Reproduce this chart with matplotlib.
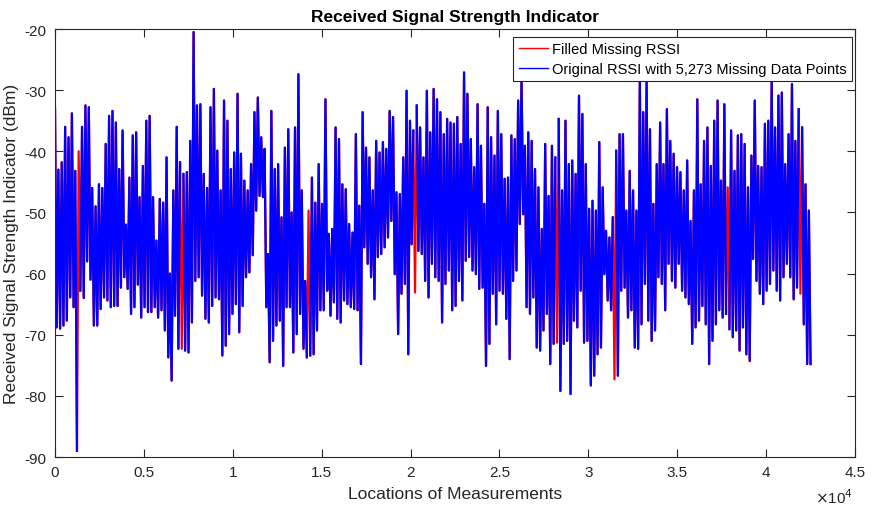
# -*- coding: utf-8 -*-
import numpy as np
import matplotlib as mpl
mpl.use('Agg')
import matplotlib.pyplot as plt

#------------------ Font setup ----------------------
plt.rcParams['font.family'] = ['Liberation Sans', 'DejaVu Sans']
plt.rcParams['axes.unicode_minus'] = False
plt.rcParams['path.simplify'] = False
dark = '#262626'

#------------------ Data (upper / lower envelope read per column) ----------------------
rssi_high = [
    -33, -43, -41.8, -36, -37.7, -33.8, -43.2, -40, -36, -32.5, -32.8, -46, -49, -45.4,
    -46, -38.8, -34.2, -33.4, -35.3, -42.9, -36.6, -52, -44.3, -37.4, -36.9, -47.5, -42.4, -35,
    -34.2, -47.5, -54.6, -47.8, -48.4, -41, -60, -46.4, -36, -41.8, -43.7, -43.4, -38.3, -20.5,
    -32.5, -32.3, -43.7, -46, -32.8, -29.8, -39.9, -46.4, -31.7, -35, -42.9, -40.2, -30.6, -40.4,
    -44.8, -46.4, -42.1, -33.6, -31.2, -37.7, -39.6, -56.8, -33.4, -42.9, -42.1, -50.8, -39.4, -36.4,
    -50, -36.1, -27.4, -46.4, -61.2, -49.7, -44.3, -48.4, -42.1, -48.6, -31.5, -53.5, -52.7, -36.1,
    -38, -45.4, -46.2, -51.9, -53.3, -37.2, -48.9, -33.6, -39.4, -41, -46.4, -38.3, -40.2, -38.5,
    -39.6, -33.4, -34.4, -46.7, -47, -41, -30.1, -35, -36.6, -32.5, -36.1, -41, -30.1, -36.9,
    -29.8, -31.5, -33.6, -37.2, -34.7, -35.3, -35.5, -34.4, -38.8, -27.1, -30.6, -38, -42.6, -32.3,
    -39.1, -48.6, -32.8, -37.7, -40.7, -33.4, -37.2, -44.5, -44.3, -37.4, -38, -31.7, -28.2, -39.1,
    -36.9, -38.3, -42.9, -45.9, -52.7, -38.8, -47.3, -39.1, -41, -34.7, -46.4, -35, -42.1, -41.5,
    -43.7, -30.9, -33.9, -42.1, -49.4, -48.1, -49.7, -38.5, -45.9, -53, -54.1, -50.8, -39.9, -37.2,
    -37.2, -49.7, -43.2, -46.4, -49.7, -28.2, -33.6, -28.2, -36.4, -48.6, -42.1, -35.3, -42.1, -33.1,
    -38.3, -40.4, -42.6, -43.4, -46.4, -41.5, -51.4, -46.4, -31.5, -45.4, -38.3, -36.1, -42.4, -35,
    -31.7, -44.8, -32.3, -45.9, -36.6, -43.2, -37.4, -37.2, -38.8, -45.9, -40.7, -31.7, -42.4, -42.6,
    -35.5, -35, -28.5, -36.1, -30.9, -30.4, -42.1, -37.2, -29, -38.3, -33.1, -36.1, -45.4, -49.7,
]
rssi_low = [
    -68.8, -69, -68.5, -67.7, -63.9, -65.5, -89, -62.8, -64, -58, -61, -68.5, -68.5, -65.8,
    -63.9, -64.4, -65.5, -65.3, -65.3, -62.3, -60.6, -62.5, -66.6, -65.5, -61.8, -67.2, -65.5, -66.3,
    -66.3, -65.5, -67.2, -66, -69.3, -73.7, -77.5, -66.9, -72.3, -72.3, -72.6, -72.9, -68, -61.2,
    -60.6, -63.6, -67.4, -68, -65.3, -63.9, -64.2, -73.4, -71.8, -69.9, -66.6, -65, -69.6, -65.3,
    -60.6, -59.8, -57, -49.7, -47.3, -47.5, -65.5, -74.5, -71, -68.5, -67.7, -75.1, -65.5, -65.5,
    -72.9, -69.9, -66.6, -72.3, -73.7, -73.4, -73.2, -69.3, -66, -66, -62.8, -66.9, -64.7, -67.4,
    -68, -64.4, -65, -65.5, -65.8, -66, -74.8, -55.7, -58.4, -60.6, -64.2, -57.3, -56.8, -55.7,
    -54.1, -51.4, -60.1, -69.9, -63.3, -61.7, -73.2, -55.2, -63.1, -56.3, -56.8, -61.2, -63.9, -58.4,
    -60.6, -61.2, -68, -61.7, -59.5, -66, -65.3, -61.2, -64.4, -57.9, -57.3, -59.5, -60.1, -62.5,
    -62.3, -75.1, -71.5, -63.3, -68.3, -62.8, -63.3, -67.4, -74, -61.2, -59.5, -51.9, -50.3, -65.5,
    -66.6, -63.9, -72.1, -72.6, -69.3, -66.6, -74.8, -71.5, -71.3, -79.2, -71.5, -71, -79.7, -67.7,
    -68.8, -62.8, -71.3, -71, -78.3, -76.7, -73.2, -72.1, -60.1, -64.4, -66, -77.3, -76.7, -62.8,
    -62.3, -67.2, -66, -72.1, -72.3, -68.3, -61.7, -67.7, -71, -69.3, -60.6, -61.7, -66, -58.4,
    -61.2, -62.3, -58.4, -62.8, -63.9, -65, -71.5, -68.8, -67.7, -65.3, -68.3, -74.8, -71, -68.3,
    -66, -67.2, -66.6, -69.1, -70.4, -69.3, -72.6, -68.8, -73.2, -74.3, -57.6, -61.2, -63.3, -65,
    -62.8, -61.7, -59.5, -62.8, -64.4, -60.6, -58.4, -60.6, -64.2, -62.3, -63.3, -68.3, -74.8, -74.8,
]
# samples that were missing in the original record (filled afterwards)
missing_idx = [14, 75, 150, 213, 297, 331, 398, 441]
n_missing = 5273
x_end = 42500

#------------------ Build series ----------------------
filled = np.column_stack([rssi_high, rssi_low]).ravel()
locations = np.linspace(0, x_end, filled.size)
original = filled.copy()
original[missing_idx] = np.nan

#------------------ Figure ----------------------
fig = plt.figure(figsize=(8.79, 5.10), dpi=100)
ax = fig.add_axes([55/879, 1-458/510, 800/879, 428/510])

ax.plot(locations, filled, color='red', lw=1.6, label='Filled Missing RSSI')
ax.plot(locations, original, color='blue', lw=1.6,
        label='Original RSSI with {:,} Missing Data Points'.format(n_missing))

ax.set_xlim(0, 45000)
ax.set_ylim(-90, -20)
xt = np.arange(0, 45001, 5000)
ax.set_xticks(xt)
ax.set_xticklabels(['%g' % (v/1e4) for v in xt])
ax.set_yticks(np.arange(-90, -19, 10))

ax.tick_params(direction='in', length=6, width=0.8, top=True, right=True,
               labelsize=11, colors=dark, pad=6)
for s in ax.spines.values():
    s.set_color(dark)
    s.set_linewidth(0.8)

ax.text(0.998, -0.092, r'$\times$10$^{4}$', transform=ax.transAxes,
        ha='right', va='center', fontsize=11, color=dark)

ax.set_title('Received Signal Strength Indicator', fontsize=12.5, fontweight='bold',
             color='black', pad=6)
ax.set_xlabel('Locations of Measurements', fontsize=12.5, color=dark, labelpad=5)
ax.set_ylabel('Received Signal Strength Indicator (dBm)', fontsize=12.5, color=dark, labelpad=4)

leg = ax.legend(loc='upper right', bbox_to_anchor=(0.996, 0.981), borderaxespad=0,
                fancybox=False, framealpha=1, edgecolor=dark, fontsize=10.5,
                handlelength=2.0, handletextpad=0.3, borderpad=0.35, labelspacing=0.4)
leg.get_frame().set_linewidth(0.8)
for h in leg.get_lines():
    h.set_linewidth(1.0)

fig.savefig('out.png', dpi=100)
